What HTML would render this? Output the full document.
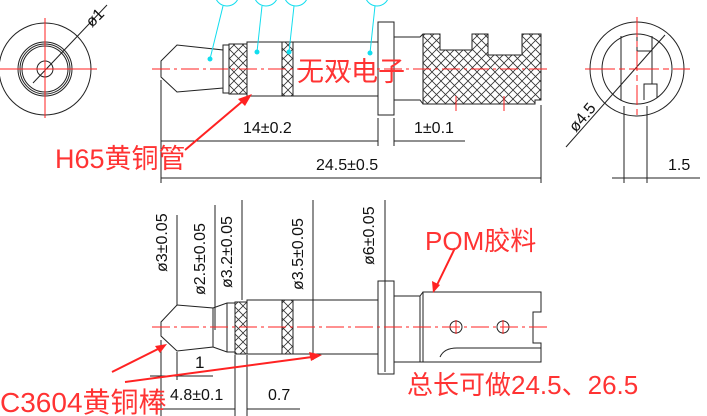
<!DOCTYPE html>
<html><head><meta charset="utf-8"><style>
html,body{margin:0;padding:0;background:#fff;}
svg{display:block;}
text{font-family:"Liberation Sans","Noto Sans CJK SC",sans-serif;}
</style></head><body>
<svg width="707" height="416" viewBox="0 0 707 416" xmlns="http://www.w3.org/2000/svg">
<defs>
<pattern id="h" width="9" height="9" patternUnits="userSpaceOnUse">
<path d="M0,0L9,9M9,0L0,9" stroke="#333" stroke-width="0.8"/>
</pattern>
</defs>
<g fill="none" stroke="#222" stroke-width="1">
<circle cx="45" cy="69" r="46"/>
<circle cx="45" cy="69" r="27"/>
<circle cx="45" cy="69" r="25"/>
<circle cx="45" cy="69" r="23"/>
<circle cx="45" cy="69" r="8"/>
<line x1="107" y1="5" x2="33" y2="83"/>
<path d="M161,61 L177,45 L223,50 L223,88 L177,92 L161,77 Z"/>
<rect x="223" y="45" width="6" height="48"/>
<rect x="229" y="44" width="18" height="50" fill="url(#h)"/>
<rect x="247" y="42" width="131" height="54"/>
<rect x="282" y="42" width="11" height="54" fill="url(#h)"/>
<rect x="378" y="22" width="16" height="93"/>
<path d="M394,37 L420,37 L423,34 M394,100 L420,100 L423,104"/>
<path d="M423,34 L440,34 L440,50 L472,50 L472,34 L488,34 L488,55 L522,55 L522,34 L541,34 L541,100 L535,100 L535,104 L423,104 Z" fill="url(#h)"/>
<line x1="161" y1="80" x2="161" y2="183"/>
<line x1="541" y1="105" x2="541" y2="183"/>
<line x1="378" y1="118" x2="378" y2="146"/>
<line x1="394" y1="118" x2="394" y2="146"/>
<line x1="161" y1="141" x2="378" y2="141"/>
<line x1="394" y1="141" x2="465" y2="141"/>
<line x1="161" y1="178" x2="541" y2="178"/>
<circle cx="637" cy="69" r="47"/>
<circle cx="637" cy="69" r="35"/>
<line x1="621" y1="36" x2="621" y2="100"/>
<line x1="652" y1="36" x2="652" y2="84"/>
<path d="M637,36 L637,51 L652,51"/>
<path d="M644,100 L644,84 L657,84 L657,98"/>
<line x1="665" y1="35" x2="566" y2="147"/>
<line x1="624" y1="106" x2="624" y2="183"/>
<line x1="647" y1="106" x2="647" y2="183"/>
<line x1="612" y1="178" x2="700" y2="178"/>
<path d="M161,322 L177,305 L213,308 L213,347 L177,351 L161,336 Z"/>
<path d="M213,308 L227,303 L235,303 M213,347 L227,352 L235,352"/>
<line x1="227" y1="303" x2="227" y2="352"/>
<rect x="235" y="302" width="12" height="52" fill="url(#h)"/>
<rect x="247" y="300" width="131" height="54"/>
<rect x="282" y="300" width="11" height="54" fill="url(#h)"/>
<rect x="378" y="281" width="16" height="93"/>
<path d="M394,296 L420,296 L423,292 M394,362 L420,362 L423,362"/>
<line x1="420" y1="296" x2="420" y2="362"/>
<path d="M423,292 L541,292 L541,312 L533,312 L533,343 L541,343 L541,362 L423,362 Z"/>
<path d="M440,357 Q444,348 457,348 L541,348"/>
<circle cx="456" cy="327" r="6"/>
<circle cx="503" cy="327" r="6"/>
<line x1="177" y1="215" x2="177" y2="305"/>
<line x1="215" y1="205" x2="215" y2="330"/>
<line x1="242" y1="200" x2="242" y2="300"/>
<line x1="313" y1="200" x2="313" y2="360"/>
<line x1="385" y1="200" x2="385" y2="372"/>
<line x1="161" y1="340" x2="161" y2="416"/>
<line x1="177" y1="352" x2="177" y2="380"/>
<line x1="235" y1="355" x2="235" y2="416"/>
<line x1="247" y1="355" x2="247" y2="416"/>
<line x1="150" y1="376" x2="213" y2="376"/>
<line x1="161" y1="409" x2="235" y2="409"/>
<line x1="247" y1="409" x2="300" y2="409"/>
</g>
<g stroke="#f22" stroke-width="1" fill="none">
<line x1="0" y1="69" x2="97" y2="69"/>
<line x1="45" y1="18" x2="45" y2="118"/>
<line x1="152" y1="69" x2="550" y2="69" stroke-dasharray="18,4,3,4"/>
<line x1="456" y1="96" x2="456" y2="111"/>
<line x1="504" y1="96" x2="504" y2="111"/>
<line x1="585" y1="69" x2="690" y2="69" stroke-dasharray="30,4,6,4"/>
<line x1="637" y1="17" x2="637" y2="118" stroke-dasharray="20,4,6,4"/>
<line x1="152" y1="327" x2="550" y2="327" stroke-dasharray="18,4,3,4"/>
<line x1="456" y1="320" x2="456" y2="334"/>
<line x1="503" y1="320" x2="503" y2="334"/>
<line x1="185" y1="150" x2="244" y2="100" stroke-width="2"/>
<line x1="112" y1="372" x2="160" y2="348" stroke-width="2"/>
<line x1="125" y1="382" x2="312" y2="357" stroke-width="2"/>
<line x1="455" y1="248" x2="437" y2="285" stroke-width="2"/>
</g>
<g fill="#f22">
<polygon points="252,94 238,99 245,106"/>
<polygon points="167,344 155,346 160,353"/>
<polygon points="322,355 309,352 311,361"/>
<polygon points="433,293 432,281 440,285"/>
</g>
<g stroke="#1de" fill="none" stroke-width="1">
<circle cx="227" cy="-6" r="12"/><circle cx="266" cy="-6" r="12"/>
<circle cx="296" cy="-6" r="12"/><circle cx="377" cy="-6" r="12"/>
<line x1="223" y1="6" x2="210" y2="59"/><line x1="262" y1="6" x2="257" y2="52"/>
<line x1="294" y1="6" x2="289" y2="52"/><line x1="375" y1="6" x2="370" y2="53"/>
</g>
<g fill="#1de"><circle cx="210" cy="59" r="2.5"/><circle cx="257" cy="52" r="2.5"/><circle cx="289" cy="52" r="2.5"/><circle cx="370" cy="53" r="2.5"/></g>
<g fill="#111" font-size="16">
<text x="243" y="133">14±0.2</text>
<text x="414" y="133">1±0.1</text>
<text x="316" y="170">24.5±0.5</text>
<text x="668" y="170">1.5</text>
<text x="195" y="368" font-size="17">1</text>
<text x="170" y="400">4.8±0.1</text>
<text x="268" y="400">0.7</text>
<text transform="translate(92,28) rotate(-45)">ø1</text>
<text transform="translate(576,133) rotate(-50)">ø4.5</text>
<text transform="translate(167,272) rotate(-90)">ø3±0.05</text>
<text transform="translate(205,295) rotate(-90)">ø2.5±0.05</text>
<text transform="translate(232,288) rotate(-90)">ø3.2±0.05</text>
<text transform="translate(303,290) rotate(-90)">ø3.5±0.05</text>
<text transform="translate(374,265) rotate(-90)">ø6±0.05</text>
</g>
<g fill="#f33">
<text x="297" y="81" font-size="27">无双电子</text>
<text x="55" y="168" font-size="27">H65黄铜管</text>
<text x="0" y="412" font-size="28">C3604黄铜棒</text>
<text x="425" y="250" font-size="26">POM胶料</text>
<text x="407" y="394" font-size="26">总长可做24.5、26.5</text>
</g>
</svg>
</body></html>
